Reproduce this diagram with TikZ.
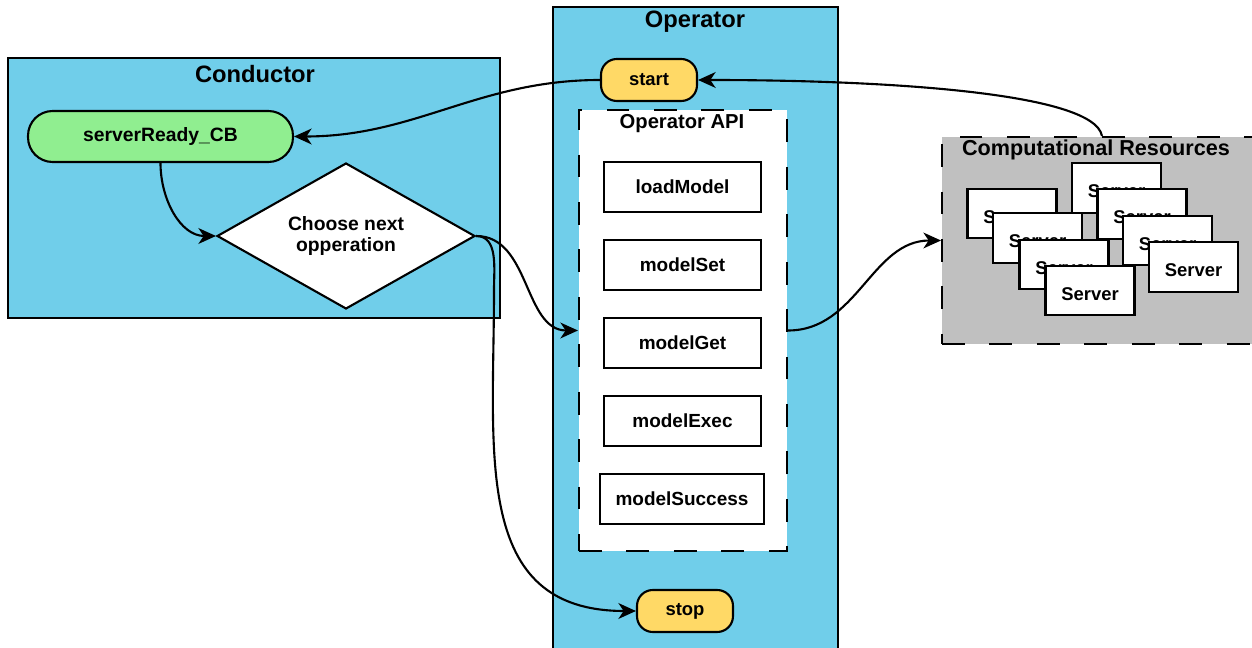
\documentclass[tikz,border=0pt]{standalone}
\usepackage{fontspec}
\setmainfont{Liberation Sans}
\usetikzlibrary{shapes.geometric,arrows.meta}

\definecolor{panelblue}{RGB}{112,206,234}
\definecolor{cbgreen}{RGB}{144,238,144}
\definecolor{termyellow}{RGB}{255,217,102}
\definecolor{resgray}{RGB}{192,192,192}

\tikzset{
	panel/.style={draw=black, line width=1.2pt, fill=panelblue, inner sep=0pt},
	dashpanel/.style={draw=black, line width=1.2pt, dash pattern=on 13pt off 14pt, inner sep=0pt},
	paneltitle/.style={font=\fontsize{13.5}{15}\selectfont\bfseries, inner sep=0pt},
	subtitle/.style={font=\fontsize{11.5}{13}\selectfont\bfseries, inner sep=0pt},
	terminal/.style={draw=black, line width=1.2pt, fill=termyellow, rounded corners=9pt,
		minimum width=1.92cm, minimum height=0.84cm, font=\fontsize{10.5}{12}\selectfont\bfseries},
	callback/.style={draw=black, line width=1.2pt, fill=cbgreen, rounded corners=14pt,
		minimum width=5.3cm, minimum height=1.02cm, font=\fontsize{11}{13}\selectfont\bfseries},
	decision/.style={diamond, draw=black, line width=1.2pt, fill=white, inner sep=0pt, aspect=1.77,
		minimum width=5.16cm, minimum height=2.92cm, align=center, font=\fontsize{11}{12}\selectfont\bfseries},
	apibox/.style={draw=black, line width=1.2pt, fill=white, minimum width=3.14cm, minimum height=1cm,
		font=\fontsize{10.8}{12}\selectfont\bfseries},
	server/.style={draw=black, line width=1.2pt, fill=white, minimum width=1.78cm, minimum height=0.99cm,
		text height=11pt, text depth=0pt, font=\fontsize{10.5}{12}\selectfont\bfseries},
	flow/.style={->, line width=1.2pt},
}

\begin{document}
\begin{tikzpicture}[x=0.02cm, y=0.02cm, >={Stealth[length=10pt, width=9pt, inset=3pt]}]
	\useasboundingbox (0,0) rectangle (1252,-648);

	% containers
	\node[panel, minimum width=9.84cm, minimum height=5.2cm] (conductor) at (254,-188) {};
	\node[paneltitle] (conductortitle) at (255,-74) {Conductor};

	\node[panel, minimum width=5.7cm, minimum height=12.96cm] (operator) at (695.5,-331) {};
	\node[paneltitle] (operatortitle) at (695,-22) {Operator};

	\node[dashpanel, fill=white, minimum width=4.16cm, minimum height=8.82cm] (api) at (683,-330.5) {};
	\node[subtitle] (apititle) at (682,-124) {Operator API};

	\node[dashpanel, fill=resgray, minimum width=6.4cm, minimum height=4.14cm] (compres) at (1102,-240.5) {};
	\node[subtitle, font=\fontsize{12.3}{14}\selectfont\bfseries] (comptitle) at (1096,-149.5) {Computational Resources};

	% conductor
	\node[callback] (ready) at (160.5,-136.5) {serverReady\_CB};
	\node[decision] (choose) at (346,-236) {Choose next\\opperation};

	% operator
	\node[terminal] (start) at (649,-80) {start};
	\node[apibox] (load) at (682.5,-187) {loadModel};
	\node[apibox] (set) at (682.5,-265) {modelSet};
	\node[apibox] (get) at (682.5,-343) {modelGet};
	\node[apibox] (exec) at (682.5,-421) {modelExec};
	\node[apibox, minimum width=3.28cm] (success) at (682,-499) {modelSuccess};
	\node[terminal] (stop) at (685,-611) {stop};

	% servers
	\node[server] (srva) at (1012,-213.5) {Server};
	\node[server] (srvb) at (1037.5,-238) {Server};
	\node[server] (srvc) at (1064,-264.5) {Server};
	\node[server] (srvd) at (1090,-290.5) {Server};
	\node[server] (srve) at (1116.5,-188) {Server};
	\node[server] (srvf) at (1142,-214) {Server};
	\node[server] (srvg) at (1167.5,-240.5) {Server};
	\node[server] (srvh) at (1193.5,-267) {Server};

	% connectors
	\draw[flow] (compres.north) .. controls (1094,-92) and (880,-80) .. (start.east);
	\draw[flow] (start.west) to[out=180, in=0] (ready.east);
	\draw[flow] (ready.south) to[out=-90, in=180] (choose.west);
	\draw[flow] (choose.east) to[out=0, in=180] (api.west);
	\draw[flow] (choose.east) to[out=0, in=90] (494,-290) to[out=-90, in=180, looseness=1.2] (stop.west);
	\draw[flow] (api.east) to[out=0, in=180] (compres.west);
\end{tikzpicture}
\end{document}
